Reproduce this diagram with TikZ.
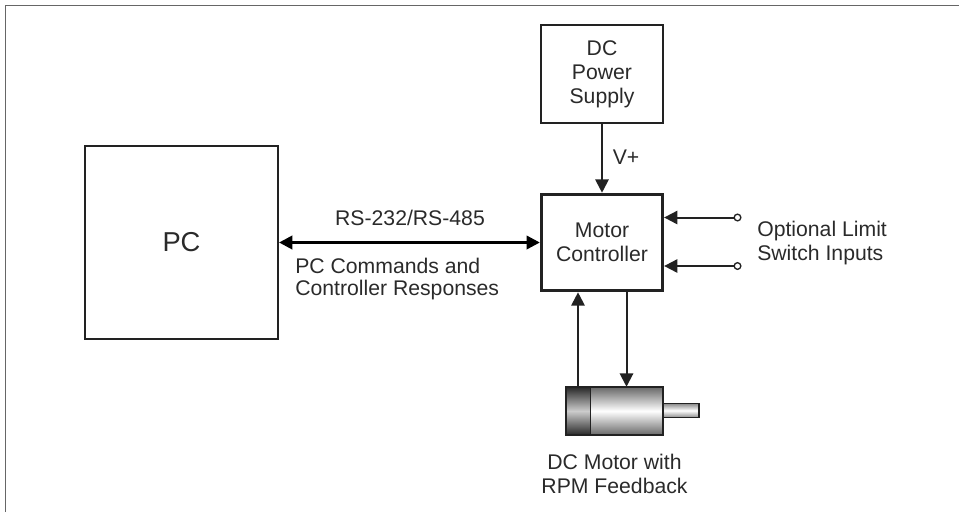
\documentclass[tikz,border=0pt]{standalone}
\usepackage{fontspec}
\setmainfont{Liberation Sans}
\usetikzlibrary{arrows.meta,positioning}
\definecolor{ink}{HTML}{222222}
\definecolor{framec}{HTML}{666666}
\definecolor{txt}{HTML}{2A2A2A}
\tikzset{
  x=0.75pt,y=-0.75pt,
  thinbox/.style={draw=ink,line width=1.3pt,fill=white,inner sep=0pt,text=txt,align=center,font=\fontsize{15.9}{18}\selectfont},
  thickbox/.style={thinbox,line width=2.2pt},
  lbl/.style={inner sep=0pt,text=txt,align=center,font=\fontsize{15.9}{18}\selectfont},
  conn/.style={draw=ink,line width=1.5pt,-{Triangle[length=10pt,width=10pt]}},
  bus/.style={draw=black,line width=2.2pt,{Triangle[length=10pt,width=10pt]}-{Triangle[length=10pt,width=10pt]}},
  term/.style={circle,draw=ink,line width=1pt,fill=white,minimum size=5pt,inner sep=0pt},
}
\begin{document}
\begin{tikzpicture}
\useasboundingbox (0,0) rectangle (959,512);
\draw[framec,line width=1pt] (5.5,512) -- (5.5,5.5) -- (959,5.5);
\node[thinbox,minimum width=145pt,minimum height=145pt,font=\fontsize{20.5}{22}\selectfont] (pc) at (181.5,242.5) {PC};
\node[thinbox,minimum width=91pt,minimum height=73.5pt] (psu) at (602,74) {DC\\Power\\Supply};
\node[thickbox,minimum width=91pt,minimum height=72.5pt] (mc) at (602,242.5) {Motor\\Controller};
% motor
\node[minimum width=72.5pt,minimum height=36pt,inner sep=0pt] (motor) at (614.5,411) {};
\node[minimum width=27pt,minimum height=10pt,inner sep=0pt] (shaft) at (681,410.5) {};
\shade[top color=gray!90,bottom color=gray!90,middle color=white,draw=ink,line width=1.2pt] (shaft.north west) rectangle (shaft.south east);
\shade[top color=black!60,bottom color=black!60,middle color=white,draw=ink,line width=1.2pt] (motor.north west) rectangle (motor.south east);
\coordinate (capr) at (590.5,387);
\shade[top color=black!85,bottom color=black!85,middle color=black!20,draw=ink,line width=1.2pt] (motor.north west) rectangle (capr |- motor.south);
\coordinate (fbk) at (578,0);
\coordinate (drv) at (626.5,0);
\draw[conn] (psu.south) -- (mc.north);
\draw[bus] (pc.east) -- (mc.west);
\draw[conn] (fbk |- motor.north) -- (fbk |- mc.south);
\draw[conn] (drv |- mc.south) -- (drv |- motor.north);
\node[term] (sw1) at (737.5,217.5) {};
\node[term] (sw2) at (737.5,266) {};
\draw[conn] (sw1) -- (sw1 -| mc.east);
\draw[conn] (sw2) -- (sw2 -| mc.east);
\node[lbl] (vp) at (626,157) {V+};
\node[lbl] (rs) at (410,218) {RS-232/RS-485};
\node[lbl,anchor=west] (cmd1) at (295,266) {PC Commands and};
\node[lbl,anchor=west] (cmd2) at (295,290) {Controller Responses};
\node[lbl,anchor=west,align=left] (lim) at (757,243.5) {Optional Limit\\Switch Inputs};
\node[lbl] (mot) at (614.5,473.5) {DC Motor with\\RPM Feedback};
\end{tikzpicture}
\end{document}
